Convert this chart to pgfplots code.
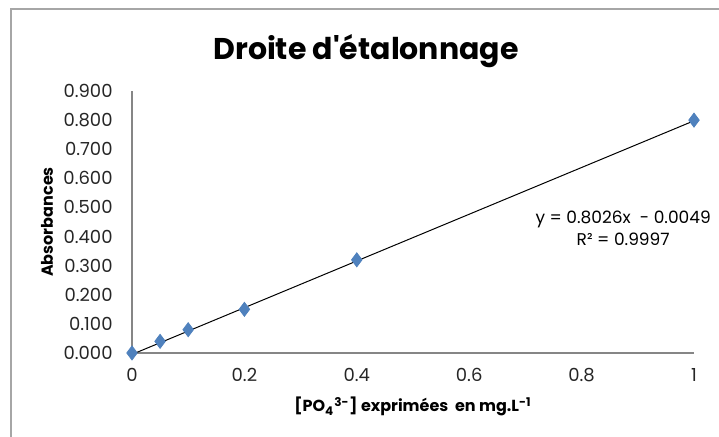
\documentclass[border=0pt]{standalone}
\usepackage{pgfplots}
\pgfplotsset{compat=1.18}
\usepackage{fontspec}
\setmainfont{Poppins}
\newfontfamily\popq{Poppins}
\definecolor{xlblue}{HTML}{4F81BD}
\definecolor{axgray}{HTML}{868686}
\definecolor{framegray}{HTML}{A6A6A6}
\begin{document}
\begin{tikzpicture}
\useasboundingbox (0,0) rectangle (359.5pt,-218.5pt);
\draw[color=framegray, line width=1pt] (5.25pt,-4.75pt) rectangle (380pt,-240pt);
\node[font=\popq\fontsize{15}{18}\selectfont\bfseries, anchor=base, inner sep=0pt] at (183pt,-30pt) {Droite d'étalonnage};
\begin{axis}[
  at={(66pt,-176.5pt)}, anchor=south west,
  scale only axis, width=281pt, height=131pt,
  xmin=0, xmax=1, ymin=0, ymax=0.9,
  clip=false,
  axis lines=left,
  axis line style={axgray, line width=0.75pt, -},
  xtick={0,0.2,0.4,0.6,0.8,1},
  ytick={0,0.1,0.2,0.3,0.4,0.5,0.6,0.7,0.8,0.9},
  major tick length=0pt,
  /pgf/number format/assume math mode=true,
  tick label style={font=\fontsize{9}{10}\selectfont, text=black!85},
  yticklabel style={/pgf/number format/fixed, /pgf/number format/fixed zerofill, /pgf/number format/precision=3, inner sep=0pt, xshift=-9.5pt},
  xticklabel style={/pgf/number format/fixed, inner sep=0pt, yshift=-7.5pt},
  xlabel={[PO\textsubscript{4}\textsuperscript{3-}] exprimées\ \ en mg.L\textsuperscript{-1}},
  xlabel style={font=\fontsize{8}{10}\selectfont\bfseries, at={(axis description cs:0.5,0)}, anchor=base, yshift=-29.5pt},
  ylabel={Absorbances},
  ylabel style={font=\fontsize{8}{10}\selectfont\bfseries, at={(axis description cs:0,0.5)}, anchor=center, yshift=42.5pt},
]
\addplot[black, line width=0.5pt] coordinates {(0.0061,0) (1,0.7977)};
\addplot[only marks, mark=diamond*, mark size=3.5pt, color=xlblue, mark options={fill=xlblue, draw=xlblue}] coordinates {
(0,0) (0.05,0.04) (0.1,0.08) (0.2,0.15) (0.4,0.32) (1,0.80)};
\node[align=center, font=\fontsize{8.5}{11}\selectfont, inner sep=0pt] at (axis cs:0.874,0.43) {y = 0.8026x\ \ - 0.0049\\R² = 0.9997};
\end{axis}
\end{tikzpicture}
\end{document}
